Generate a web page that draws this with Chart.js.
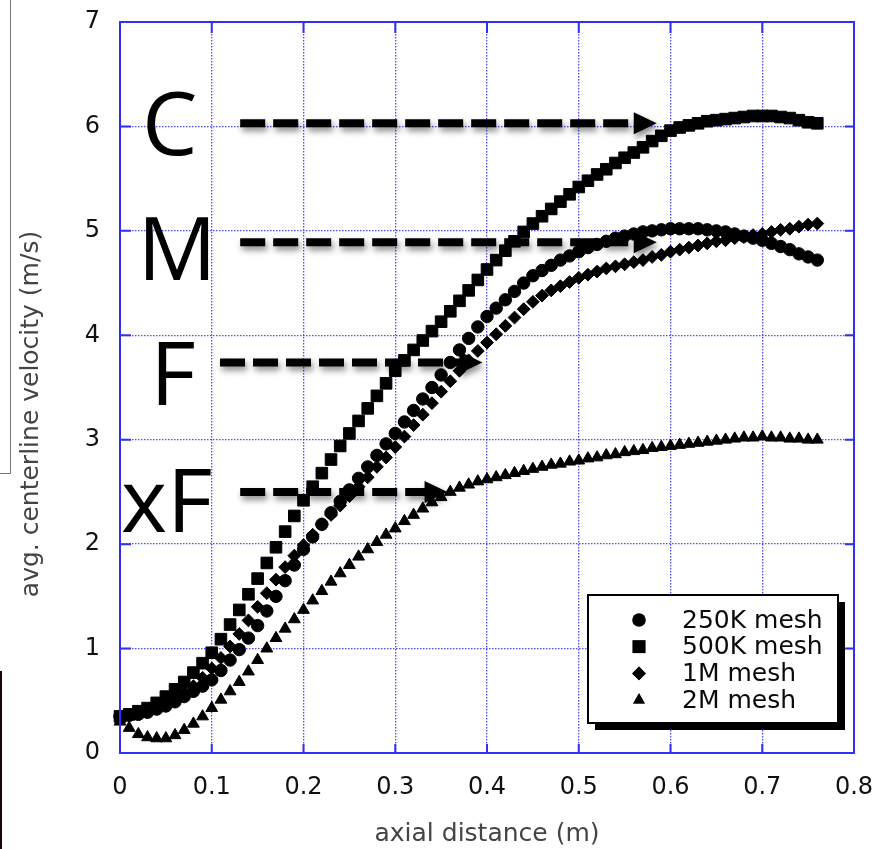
<!DOCTYPE html>
<html lang="en">
<head>
    <meta charset="UTF-8">
    <title>Avg. centerline velocity vs axial distance</title>
    <script src="https://cdn.jsdelivr.net/npm/chart.js"></script>
    <style>
        body { margin: 0; background: #fff; }
        canvas { display: block; }
    </style>
</head>
<body>

<canvas id="meshChart" width="875" height="849"></canvas>

<script>
    // axial positions (m) where the curves are sampled
    const xs = [0.00, 0.01, 0.02, 0.03, 0.04, 0.05, 0.06, 0.07, 0.08, 0.09,
                0.10, 0.11, 0.12, 0.13, 0.14, 0.15, 0.16, 0.17, 0.18, 0.19,
                0.20, 0.21, 0.22, 0.23, 0.24, 0.25, 0.26, 0.27, 0.28, 0.29,
                0.30, 0.31, 0.32, 0.33, 0.34, 0.35, 0.36, 0.37, 0.38, 0.39,
                0.40, 0.41, 0.42, 0.43, 0.44, 0.45, 0.46, 0.47, 0.48, 0.49,
                0.50, 0.51, 0.52, 0.53, 0.54, 0.55, 0.56, 0.57, 0.58, 0.59,
                0.60, 0.61, 0.62, 0.63, 0.64, 0.65, 0.66, 0.67, 0.68, 0.69,
                0.70, 0.71, 0.72, 0.73, 0.74, 0.75, 0.76];

    // avg. centerline velocity (m/s)
    const mesh250k = [0.35, 0.36, 0.37, 0.39, 0.42, 0.45, 0.49, 0.54, 0.59, 0.64,
                      0.70, 0.79, 0.89, 0.99, 1.10, 1.22, 1.36, 1.50, 1.65, 1.80,
                      1.95, 2.07, 2.19, 2.30, 2.41, 2.52, 2.63, 2.74, 2.85, 2.96,
                      3.06, 3.17, 3.28, 3.39, 3.50, 3.62, 3.74, 3.86, 3.97, 4.08,
                      4.18, 4.26, 4.34, 4.42, 4.50, 4.57, 4.62, 4.67, 4.72, 4.76,
                      4.80, 4.84, 4.87, 4.90, 4.93, 4.95, 4.97, 4.99, 5.00, 5.01,
                      5.02, 5.02, 5.02, 5.02, 5.01, 5.00, 4.99, 4.97, 4.95, 4.93,
                      4.91, 4.88, 4.85, 4.82, 4.78, 4.75, 4.72];

    const mesh500k = [0.35, 0.37, 0.40, 0.43, 0.48, 0.54, 0.61, 0.68, 0.77, 0.86,
                      0.96, 1.09, 1.23, 1.37, 1.52, 1.67, 1.82, 1.97, 2.12, 2.27,
                      2.42, 2.55, 2.68, 2.81, 2.94, 3.06, 3.18, 3.30, 3.42, 3.54,
                      3.66, 3.76, 3.86, 3.95, 4.04, 4.13, 4.23, 4.33, 4.43, 4.53,
                      4.63, 4.72, 4.81, 4.90, 4.99, 5.07, 5.14, 5.21, 5.28, 5.35,
                      5.42, 5.48, 5.54, 5.59, 5.65, 5.70, 5.75, 5.80, 5.86, 5.91,
                      5.96, 5.99, 6.01, 6.03, 6.05, 6.06, 6.07, 6.08, 6.09, 6.10,
                      6.10, 6.10, 6.09, 6.08, 6.06, 6.04, 6.03];

    const mesh1m = [0.35, 0.37, 0.39, 0.41, 0.44, 0.48, 0.53, 0.58, 0.64, 0.72,
                    0.81, 0.91, 1.02, 1.14, 1.27, 1.40, 1.53, 1.66, 1.78, 1.89,
                    1.99, 2.09, 2.19, 2.28, 2.37, 2.46, 2.55, 2.64, 2.74, 2.83,
                    2.93, 3.03, 3.14, 3.24, 3.35, 3.46, 3.56, 3.66, 3.76, 3.85,
                    3.93, 4.01, 4.09, 4.17, 4.25, 4.32, 4.38, 4.43, 4.47, 4.51,
                    4.55, 4.58, 4.61, 4.64, 4.66, 4.68, 4.70, 4.72, 4.75, 4.77,
                    4.80, 4.82, 4.84, 4.86, 4.88, 4.90, 4.91, 4.93, 4.94, 4.96,
                    4.97, 4.99, 5.01, 5.02, 5.04, 5.06, 5.07];

    const mesh2m = [0.30, 0.24, 0.18, 0.15, 0.14, 0.14, 0.17, 0.22, 0.28, 0.35,
                    0.43, 0.51, 0.59, 0.68, 0.78, 0.89, 1.00, 1.10, 1.19, 1.28,
                    1.37, 1.46, 1.55, 1.64, 1.72, 1.80, 1.88, 1.95, 2.02, 2.09,
                    2.15, 2.22, 2.28, 2.34, 2.40, 2.45, 2.50, 2.54, 2.57, 2.60,
                    2.62, 2.64, 2.66, 2.68, 2.70, 2.72, 2.74, 2.76, 2.77, 2.79,
                    2.80, 2.82, 2.83, 2.85, 2.86, 2.88, 2.89, 2.90, 2.92, 2.93,
                    2.94, 2.95, 2.96, 2.97, 2.98, 2.99, 3.00, 3.01, 3.02, 3.02,
                    3.03, 3.02, 3.02, 3.01, 3.01, 3.00, 3.00];

    const seriesLabels = ['250K mesh', '500K mesh', '1M mesh', '2M mesh'];
    const xTicks = [0, 0.1, 0.2, 0.3, 0.4, 0.5, 0.6, 0.7, 0.8];
    const yTicks = [0, 1, 2, 3, 4, 5, 6, 7];

    // hand-drawn overlay labels and dashed arrows (data units)
    const noteText = ['C', 'M', 'F', 'xF'];
    const noteX = [0.024, 0.019, 0.033, 0.001];
    const noteY = [5.73, 4.53, 3.33, 2.12];
    const arrowY = [6.03, 4.89, 3.74, 2.50];
    const arrowFrom = [0.131, 0.131, 0.109, 0.131];
    const arrowTo = [0.585, 0.585, 0.395, 0.357];

    const BLUE = '#2f2ff5';
    const FONT = "'DejaVu Sans', sans-serif";

    function pts(ys) {
        return xs.map((x, i) => ({ x: x, y: ys[i] }));
    }

    const styles = [
        { data: mesh250k, pointStyle: 'circle', radius: 6.2 },
        { data: mesh500k, pointStyle: 'rect', radius: 8.2 },
        { data: mesh1m, pointStyle: 'rectRot', radius: 6.4 },
        { data: mesh2m, pointStyle: 'triangle', radius: 6.8 }
    ];

    // frame, inside ticks, arrows, legend, side lines
    const decorations = {
        id: 'decorations',
        beforeDraw(chart) {
            const ctx = chart.ctx;
            ctx.save();
            ctx.fillStyle = '#fff';
            ctx.fillRect(0, 0, chart.width, chart.height);
            // stray edges from the cropped screenshot
            ctx.strokeStyle = '#777';
            ctx.lineWidth = 1;
            ctx.beginPath();
            ctx.moveTo(10.5, 0);
            ctx.lineTo(10.5, 473.5);
            ctx.lineTo(0, 473.5);
            ctx.stroke();
            ctx.strokeStyle = '#1a0505';
            ctx.lineWidth = 2;
            ctx.beginPath();
            ctx.moveTo(1, 671);
            ctx.lineTo(1, chart.height);
            ctx.stroke();
            ctx.restore();
        },
        afterDatasetsDraw(chart) {
            const ctx = chart.ctx;
            const a = chart.chartArea;
            const sx = chart.scales.x, sy = chart.scales.y;
            ctx.save();

            // frame
            ctx.strokeStyle = BLUE;
            ctx.lineWidth = 2;
            ctx.strokeRect(a.left, a.top, a.right - a.left, a.bottom - a.top);

            // inside tick marks on all four sides
            ctx.lineWidth = 2;
            ctx.beginPath();
            xTicks.forEach(t => {
                const px = sx.getPixelForValue(t);
                ctx.moveTo(px, a.bottom); ctx.lineTo(px, a.bottom - 9);
                ctx.moveTo(px, a.top); ctx.lineTo(px, a.top + 11);
            });
            yTicks.forEach(t => {
                const py = sy.getPixelForValue(t);
                ctx.moveTo(a.left, py); ctx.lineTo(a.left + 11, py);
                ctx.moveTo(a.right, py); ctx.lineTo(a.right - 9, py);
            });
            ctx.stroke();

            // y axis title
            ctx.save();
            ctx.translate(31, 414);
            ctx.rotate(-Math.PI / 2);
            ctx.fillStyle = '#444';
            ctx.font = '25px ' + FONT;
            ctx.textAlign = 'center';
            ctx.textBaseline = 'middle';
            ctx.fillText('avg. centerline velocity (m/s)', 0, 0);
            ctx.restore();

            // legend box with hard shadow
            const lw = 250, lh = 128;
            const lx = a.right - 16 - lw, ly = a.bottom - 30 - lh;
            ctx.fillStyle = '#000';
            ctx.fillRect(lx + 7, ly + 7, lw, lh);
            ctx.fillStyle = '#fff';
            ctx.fillRect(lx, ly, lw, lh);
            ctx.strokeStyle = '#000';
            ctx.lineWidth = 2;
            ctx.strokeRect(lx, ly, lw, lh);
            ctx.font = '25px ' + FONT;
            ctx.textAlign = 'left';
            ctx.textBaseline = 'middle';
            seriesLabels.forEach((lbl, i) => {
                const cy = ly + 25 + i * 26.7;
                const st = styles[i];
                Chart.helpers.drawPoint(ctx, {
                    pointStyle: st.pointStyle,
                    radius: st.pointStyle === 'rect' ? 9 : 6.8,
                    rotation: 0,
                    borderWidth: 0
                }, lx + 51, cy);
                ctx.fillStyle = '#000';
                ctx.fill();
                ctx.fillStyle = '#0a0a0a';
                ctx.fillText(lbl, lx + 94, cy + 1);
            });

            // overlay letters
            ctx.fillStyle = '#000';
            ctx.font = "88px 'Open Sans', sans-serif";
            ctx.textAlign = 'left';
            ctx.textBaseline = 'alphabetic';
            noteText.forEach((t, i) => {
                ctx.fillText(t, sx.getPixelForValue(noteX[i]), sy.getPixelForValue(noteY[i]));
            });

            // dashed arrows with soft shadow
            ctx.shadowColor = 'rgba(0,0,0,0.45)';
            ctx.shadowBlur = 6;
            ctx.shadowOffsetX = 2;
            ctx.shadowOffsetY = 4;
            arrowY.forEach((v, i) => {
                const py = sy.getPixelForValue(v);
                const x0 = sx.getPixelForValue(arrowFrom[i]);
                const x1 = sx.getPixelForValue(arrowTo[i]);
                ctx.strokeStyle = '#000';
                ctx.lineWidth = 8;
                ctx.setLineDash([25, 8]);
                ctx.beginPath();
                ctx.moveTo(x0, py);
                ctx.lineTo(x1 - 20, py);
                ctx.stroke();
                ctx.setLineDash([]);
                ctx.beginPath();
                ctx.moveTo(x1, py);
                ctx.lineTo(x1 - 23, py - 11);
                ctx.lineTo(x1 - 23, py + 11);
                ctx.closePath();
                ctx.fill();
            });
            ctx.restore();
        }
    };

    const chart = new Chart(document.getElementById('meshChart').getContext('2d'), {
        type: 'scatter',
        data: {
            datasets: styles.map((st, i) => ({
                label: seriesLabels[i],
                data: pts(st.data),
                pointStyle: st.pointStyle,
                pointRadius: st.radius,
                pointBackgroundColor: '#000',
                pointBorderColor: '#000',
                pointBorderWidth: 1,
                showLine: false,
                clip: false
            }))
        },
        options: {
            responsive: false,
            animation: false,
            layout: { padding: { top: 22, right: 21, left: 0, bottom: 0 } },
            plugins: {
                legend: { display: false },
                tooltip: { enabled: false }
            },
            scales: {
                x: {
                    type: 'linear',
                    min: 0,
                    max: 0.8,
                    afterFit: s => {
                        s.height = 96;
                        s.paddingLeft = 0;
                        s.paddingRight = 0;
                    },
                    afterBuildTicks: s => { s.ticks = xTicks.map(v => ({ value: v })); },
                    ticks: {
                        callback: v => String(Number(v.toFixed(1))),
                        color: '#111',
                        font: { family: FONT, size: 24 },
                        padding: 20,
                        maxRotation: 0
                    },
                    grid: { color: 'rgba(45,45,255,0.85)', lineWidth: 1.3, drawTicks: false },
                    border: { display: false, dash: [1.5, 1.5] },
                    title: {
                        display: true,
                        text: 'axial distance (m)',
                        color: '#444',
                        font: { family: FONT, size: 25 },
                        padding: { top: 0, bottom: 0 }
                    }
                },
                y: {
                    min: 0,
                    max: 7,
                    afterFit: s => {
                        s.width = 120;
                        s.paddingTop = 0;
                        s.paddingBottom = 0;
                    },
                    afterBuildTicks: s => { s.ticks = yTicks.map(v => ({ value: v })); },
                    ticks: {
                        color: '#111',
                        font: { family: FONT, size: 24 },
                        padding: 20
                    },
                    grid: { color: 'rgba(45,45,255,0.85)', lineWidth: 1.3, drawTicks: false },
                    border: { display: false, dash: [1.5, 1.5] }
                }
            }
        },
        plugins: [decorations]
    });
</script>

</body>
</html>
